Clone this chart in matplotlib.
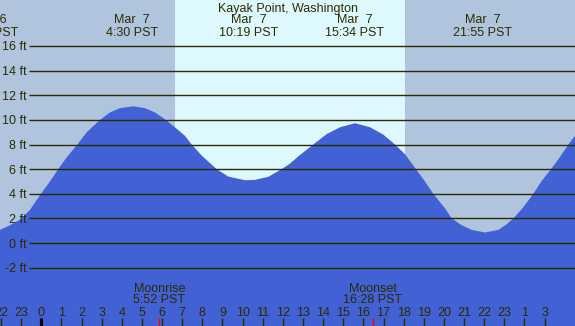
import matplotlib
matplotlib.use('Agg')
from matplotlib import pyplot as plt

# hours from midnight Mar 7 (PST) and tide height in ft
tide_hours = [-2.05, -1.55, -1.06, -0.56, -0.06, 0.43, 0.84, 1.26, 1.79, 2.26,
              2.92, 3.41, 3.91, 4.57, 5.15, 5.65, 6.14, 6.64, 7.14, 7.47,
              7.97, 8.71, 9.29, 10.12, 10.62, 11.28, 11.94, 12.35, 12.85, 13.51,
              14.18, 14.84, 15.58, 16.33, 16.99, 17.57, 18.07, 18.61, 19.06, 19.47,
              20.06, 20.39, 20.88, 21.38, 22.04, 22.7, 23.12, 23.45, 23.94, 24.44,
              24.86, 25.32, 25.77, 26.18, 26.51]
tide_feet = [1.07, 1.45, 1.9, 2.7, 3.9, 5.0, 6.0, 6.95, 8.0, 9.0,
             10.0, 10.6, 10.95, 11.1, 10.95, 10.6, 10.05, 9.4, 8.7, 8.0,
             7.1, 6.0, 5.4, 5.1, 5.13, 5.38, 6.0, 6.45, 7.15, 8.0,
             8.85, 9.4, 9.73, 9.4, 8.8, 8.0, 7.2, 6.0, 5.0, 4.0,
             2.8, 2.0, 1.45, 1.07, 0.86, 1.07, 1.53, 2.0, 2.9, 4.0,
             5.05, 6.0, 7.0, 8.0, 8.7]

# high / low labels along the top
event_hours = [-2.6, 4.5, 10.32, 15.57, 21.92]
event_dates = ['Mar  6', 'Mar  7', 'Mar  7', 'Mar  7', 'Mar  7']
event_times = ['21:24 PST', '4:30 PST', '10:19 PST', '15:34 PST', '21:55 PST']

sunrise = 6.64
sunset = 18.07

moon_hours = [5.87, 16.47]
moon_names = ['Moonrise', 'Moonset']
moon_times = ['5:52 PST', '16:28 PST']

tick_hours = list(range(-2, 26)) + [26]
tick_labels = ['22', '23'] + [str(h) for h in range(24)] + ['1', '3']
ft_levels = list(range(-2, 17, 2))

W, H = 575, 326
x_lo, x_hi = -2.05, 26.51
y_lo, y_hi = -6.73, 19.73

night = '#b0c4de'
day = '#ddf8ff'
water = '#4161d4'
ink = '#2b2b00'

plt.rcParams['font.family'] = ['Liberation Sans', 'DejaVu Sans']
fs = 9


def fy(py):
    # pixel row from the top -> axes fraction
    return 1 - py / H


fig = plt.figure(figsize=(W / 100, H / 100), dpi=100)
fig.patch.set_facecolor(night)
ax = fig.add_axes([0, 0, 1, 1])
ax.set_xlim(x_lo, x_hi)
ax.set_ylim(y_lo, y_hi)
ax.set_facecolor(night)
ax.axis('off')

ax.axvspan(sunrise, sunset, color=day, lw=0, zorder=0)
ax.fill_between(tide_hours, tide_feet, y_lo, color=water, lw=0, zorder=1)

ytr = ax.get_yaxis_transform()
xtr = ax.get_xaxis_transform()

ax.hlines(ft_levels, 29 / W, 1, transform=ytr, color=ink, lw=1.0, zorder=2)
for v in ft_levels:
    ax.text(27 / W, v, '%d ft' % v, transform=ytr, ha='right',
            va='center_baseline', fontsize=fs, color=ink)

ax.text(0.5, fy(11.7), 'Kayak Point, Washington', transform=ax.transAxes,
        ha='center', va='baseline', fontsize=fs, color=ink)
for h, d, t in zip(event_hours, event_dates, event_times):
    ax.text(h, fy(23.3), d, transform=xtr, ha='center', va='baseline',
            fontsize=fs, color=ink)
    ax.text(h, fy(35.7), t, transform=xtr, ha='center', va='baseline',
            fontsize=fs, color=ink)

for h, n, t in zip(moon_hours, moon_names, moon_times):
    ax.text(h, fy(291.7), n, transform=xtr, ha='center', va='baseline',
            fontsize=fs, color=ink)
    ax.text(h, fy(303), t, transform=xtr, ha='center', va='baseline',
            fontsize=fs, color=ink)

# hour ticks along the bottom
for h, lab in zip(tick_hours, tick_labels):
    thick = lab == '0'
    ax.vlines(h, 0, 8 / H, transform=xtr, color='black' if thick else ink,
              lw=2.3 if thick else 1.0, zorder=3)
    ax.text(h, fy(316.3), lab, transform=xtr, ha='center', va='baseline',
            fontsize=fs, color=ink)
ax.vlines(moon_hours, 0, 8 / H, transform=xtr, color='red', lw=1.0, zorder=4)

plt.savefig('out.png', dpi=100, facecolor=night)
plt.close()
